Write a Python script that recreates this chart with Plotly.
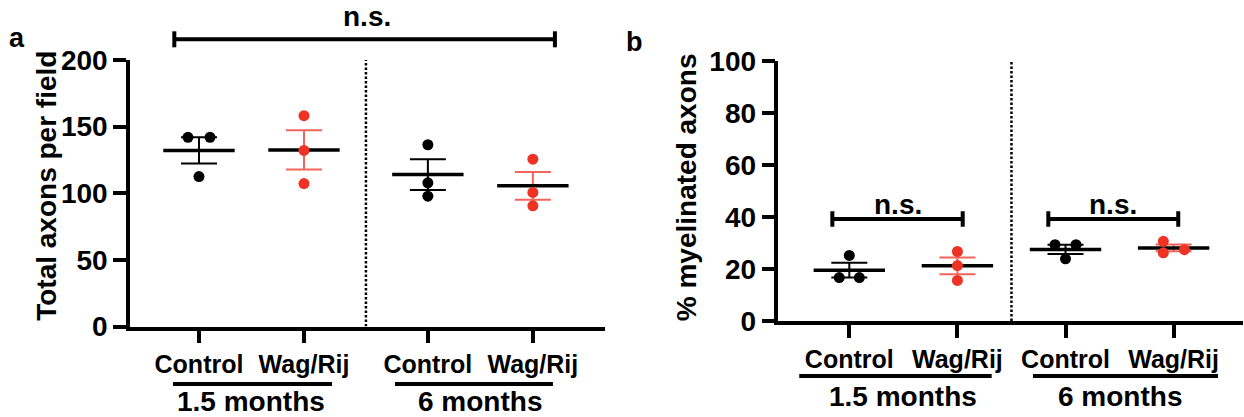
import numpy as np
import plotly.graph_objects as go

# ---------------- data ----------------
groups = ["Control", "Wag/Rij", "Control", "Wag/Rij"]
ages = ["1.5 months", "6 months"]
is_wag = [False, True, False, True]

# Panel a: total axons per field
a_pos = [1.0, 2.0, 3.18, 4.18]
a_values = [
    [142.0, 142.0, 112.5],
    [158.2, 132.1, 107.3],
    [136.4, 107.8, 97.8],
    [125.6, 100.6, 90.6],
]
a_jitter = [
    [-0.105, 0.105, 0.0],
    [0.0, 0.0, 0.0],
    [0.0, 0.0, 0.0],
    [0.0, 0.0, 0.0],
]
a_yticks = [0, 50, 100, 150, 200]

# Panel b: % myelinated axons
b_pos = [1.0, 2.0, 3.0, 4.0]
b_values = [
    [25.2, 16.7, 16.7],
    [26.7, 21.3, 15.6],
    [29.3, 29.3, 23.9],
    [30.6, 26.2, 27.4],
]
b_jitter = [
    [0.0, -0.093, 0.093],
    [0.0, 0.0, 0.0],
    [-0.097, 0.097, 0.0],
    [-0.095, -0.095, 0.1],
]
b_yticks = [0, 20, 40, 60, 80, 100]

BLACK = "#000000"
RED = "#EE3224"
RED_BAR = "#F0655C"
FONT = "Liberation Sans, Arial, sans-serif"

W, H = 1244, 417


def px_x(p):
    return p / W


def px_y(p):
    return 1 - p / H


fig = go.Figure()


def add_panel(pos, values, jitter, xa, ya):
    for i, (p, vals, jit) in enumerate(zip(pos, values, jitter)):
        v = np.array(vals)
        mean = v.mean()
        sem = v.std(ddof=1) / np.sqrt(len(v))
        dot_col = RED if is_wag[i] else BLACK
        bar_col = RED_BAR if is_wag[i] else BLACK
        # mean line + SEM
        fig.add_trace(go.Scatter(
            x=[p], y=[mean], xaxis=xa, yaxis=ya, mode="markers",
            marker=dict(symbol="line-ew", size=51, color=BLACK,
                        line=dict(width=3.5, color=BLACK)),
            error_y=dict(type="data", array=[sem], visible=True,
                         width=18, thickness=2, color=bar_col),
            showlegend=False, hoverinfo="skip", cliponaxis=False,
        ))
        # individual points
        fig.add_trace(go.Scatter(
            x=[p + j for j in jit], y=list(v), xaxis=xa, yaxis=ya,
            mode="markers",
            marker=dict(symbol="circle", size=11, color=dot_col),
            showlegend=False, cliponaxis=False,
        ))


add_panel(a_pos, a_values, a_jitter, "x", "y")
add_panel(b_pos, b_values, b_jitter, "x2", "y2")

axis_common = dict(
    showline=True, linewidth=3.5, linecolor=BLACK, showgrid=False,
    zeroline=False, ticks="outside", ticklen=13, tickwidth=3.5,
    tickcolor=BLACK, fixedrange=True, automargin=False,
)

fig.update_layout(
    template="none",
    width=W, height=H, autosize=False,
    margin=dict(l=0, r=0, t=0, b=0, pad=0),
    paper_bgcolor="white", plot_bgcolor="white",
    font=dict(family=FONT, color=BLACK),
    showlegend=False,
    xaxis=dict(domain=[px_x(130), px_x(605)], range=[0.343, 4.867],
               tickvals=a_pos, ticktext=groups,
               tickfont=dict(size=25, weight="bold", family=FONT),
               anchor="y", **axis_common),
    yaxis=dict(domain=[px_y(326.5), px_y(60)], range=[0, 200],
               tickvals=a_yticks,
               tickfont=dict(size=28, weight="bold", family=FONT),
               anchor="x", **axis_common),
    xaxis2=dict(domain=[px_x(778.4), px_x(1243)], range=[0.344, 4.642],
                tickvals=b_pos, ticktext=groups,
                tickfont=dict(size=25, weight="bold", family=FONT),
                anchor="y2", **axis_common),
    yaxis2=dict(domain=[px_y(321), px_y(60.7)], range=[0, 100],
                tickvals=b_yticks,
                tickfont=dict(size=28, weight="bold", family=FONT),
                anchor="x2", **axis_common),
)

shapes = []
annotations = []

# dotted separators
a_sep = (a_pos[1] + a_pos[2]) / 2
b_sep = (b_pos[1] + b_pos[2]) / 2
shapes.append(dict(type="line", xref="x", yref="y", x0=a_sep, x1=a_sep,
                   y0=0, y1=200, line=dict(color=BLACK, width=2.5, dash="2.5px,2px")))
shapes.append(dict(type="line", xref="x2", yref="y2", x0=b_sep, x1=b_sep,
                   y0=0, y1=100, line=dict(color=BLACK, width=2.5, dash="2.5px,2px")))

# significance brackets
a_bracket = [(0.765, 4.39)]
b_brackets = [(0.843, 2.049), (2.841, 4.043)]
b_bracket_y = 39.2
b_bracket_tick = 3.0

by = px_y(39.3)
tick = 8 / H
for x0, x1 in a_bracket:
    shapes.append(dict(type="line", xref="x", yref="paper", x0=x0, x1=x1,
                       y0=by, y1=by, line=dict(color=BLACK, width=4)))
    for xx in (x0, x1):
        shapes.append(dict(type="line", xref="x", yref="paper", x0=xx, x1=xx,
                           y0=by - tick, y1=by + tick,
                           line=dict(color=BLACK, width=4)))
    annotations.append(dict(text="<b>n.s.</b>", xref="x", yref="paper",
                            x=(x0 + x1) / 2 + 0.027, y=px_y(16.5),
                            showarrow=False, xanchor="center", yanchor="middle",
                            font=dict(size=28, family=FONT, color=BLACK)))

for x0, x1 in b_brackets:
    shapes.append(dict(type="line", xref="x2", yref="y2", x0=x0, x1=x1,
                       y0=b_bracket_y, y1=b_bracket_y,
                       line=dict(color=BLACK, width=4)))
    for xx in (x0, x1):
        shapes.append(dict(type="line", xref="x2", yref="y2", x0=xx, x1=xx,
                           y0=b_bracket_y - b_bracket_tick,
                           y1=b_bracket_y + b_bracket_tick,
                           line=dict(color=BLACK, width=4)))
    annotations.append(dict(text="<b>n.s.</b>", xref="x2", yref="paper",
                            x=(x0 + x1) / 2, y=px_y(204),
                            showarrow=False, xanchor="center", yanchor="middle",
                            font=dict(size=28, family=FONT, color=BLACK)))

# group underlines and age labels
a_under = [(0.752, 2.267), (2.867, 4.371)]
b_under = [(0.537, 2.317), (2.699, 4.411)]
for k, (x0, x1) in enumerate(a_under):
    shapes.append(dict(type="line", xref="x", yref="paper", x0=x0, x1=x1,
                       y0=px_y(384), y1=px_y(384), line=dict(color=BLACK, width=4)))
    annotations.append(dict(text="<b>%s</b>" % ages[k], xref="x", yref="paper",
                            x=(a_pos[2 * k] + a_pos[2 * k + 1]) / 2, y=px_y(401.7),
                            showarrow=False, xanchor="center", yanchor="middle",
                            font=dict(size=28, family=FONT, color=BLACK)))
for k, (x0, x1) in enumerate(b_under):
    shapes.append(dict(type="line", xref="x2", yref="paper", x0=x0, x1=x1,
                       y0=px_y(376), y1=px_y(376), line=dict(color=BLACK, width=4)))
    annotations.append(dict(text="<b>%s</b>" % ages[k], xref="x2", yref="paper",
                            x=(b_pos[2 * k] + b_pos[2 * k + 1]) / 2, y=px_y(396.7),
                            showarrow=False, xanchor="center", yanchor="middle",
                            font=dict(size=28, family=FONT, color=BLACK)))

# axis titles
annotations.append(dict(text="<b>Total axons per field</b>", xref="paper", yref="paper",
                        x=px_x(45.8), y=px_y(186), textangle=-90, showarrow=False,
                        xanchor="center", yanchor="middle",
                        font=dict(size=28, family=FONT, color=BLACK)))
annotations.append(dict(text="<b>% myelinated axons</b>", xref="paper", yref="paper",
                        x=px_x(686.7), y=px_y(187.5), textangle=-90, showarrow=False,
                        xanchor="center", yanchor="middle",
                        font=dict(size=28, family=FONT, color=BLACK)))

# panel letters
annotations.append(dict(text="<b>a</b>", xref="paper", yref="paper",
                        x=px_x(17), y=px_y(38.5), showarrow=False,
                        xanchor="center", yanchor="middle",
                        font=dict(size=27, family=FONT, color=BLACK)))
annotations.append(dict(text="<b>b</b>", xref="paper", yref="paper",
                        x=px_x(634), y=px_y(41.5), showarrow=False,
                        xanchor="center", yanchor="middle",
                        font=dict(size=27, family=FONT, color=BLACK)))

fig.update_layout(shapes=shapes, annotations=annotations)

fig.write_html("out.html")
